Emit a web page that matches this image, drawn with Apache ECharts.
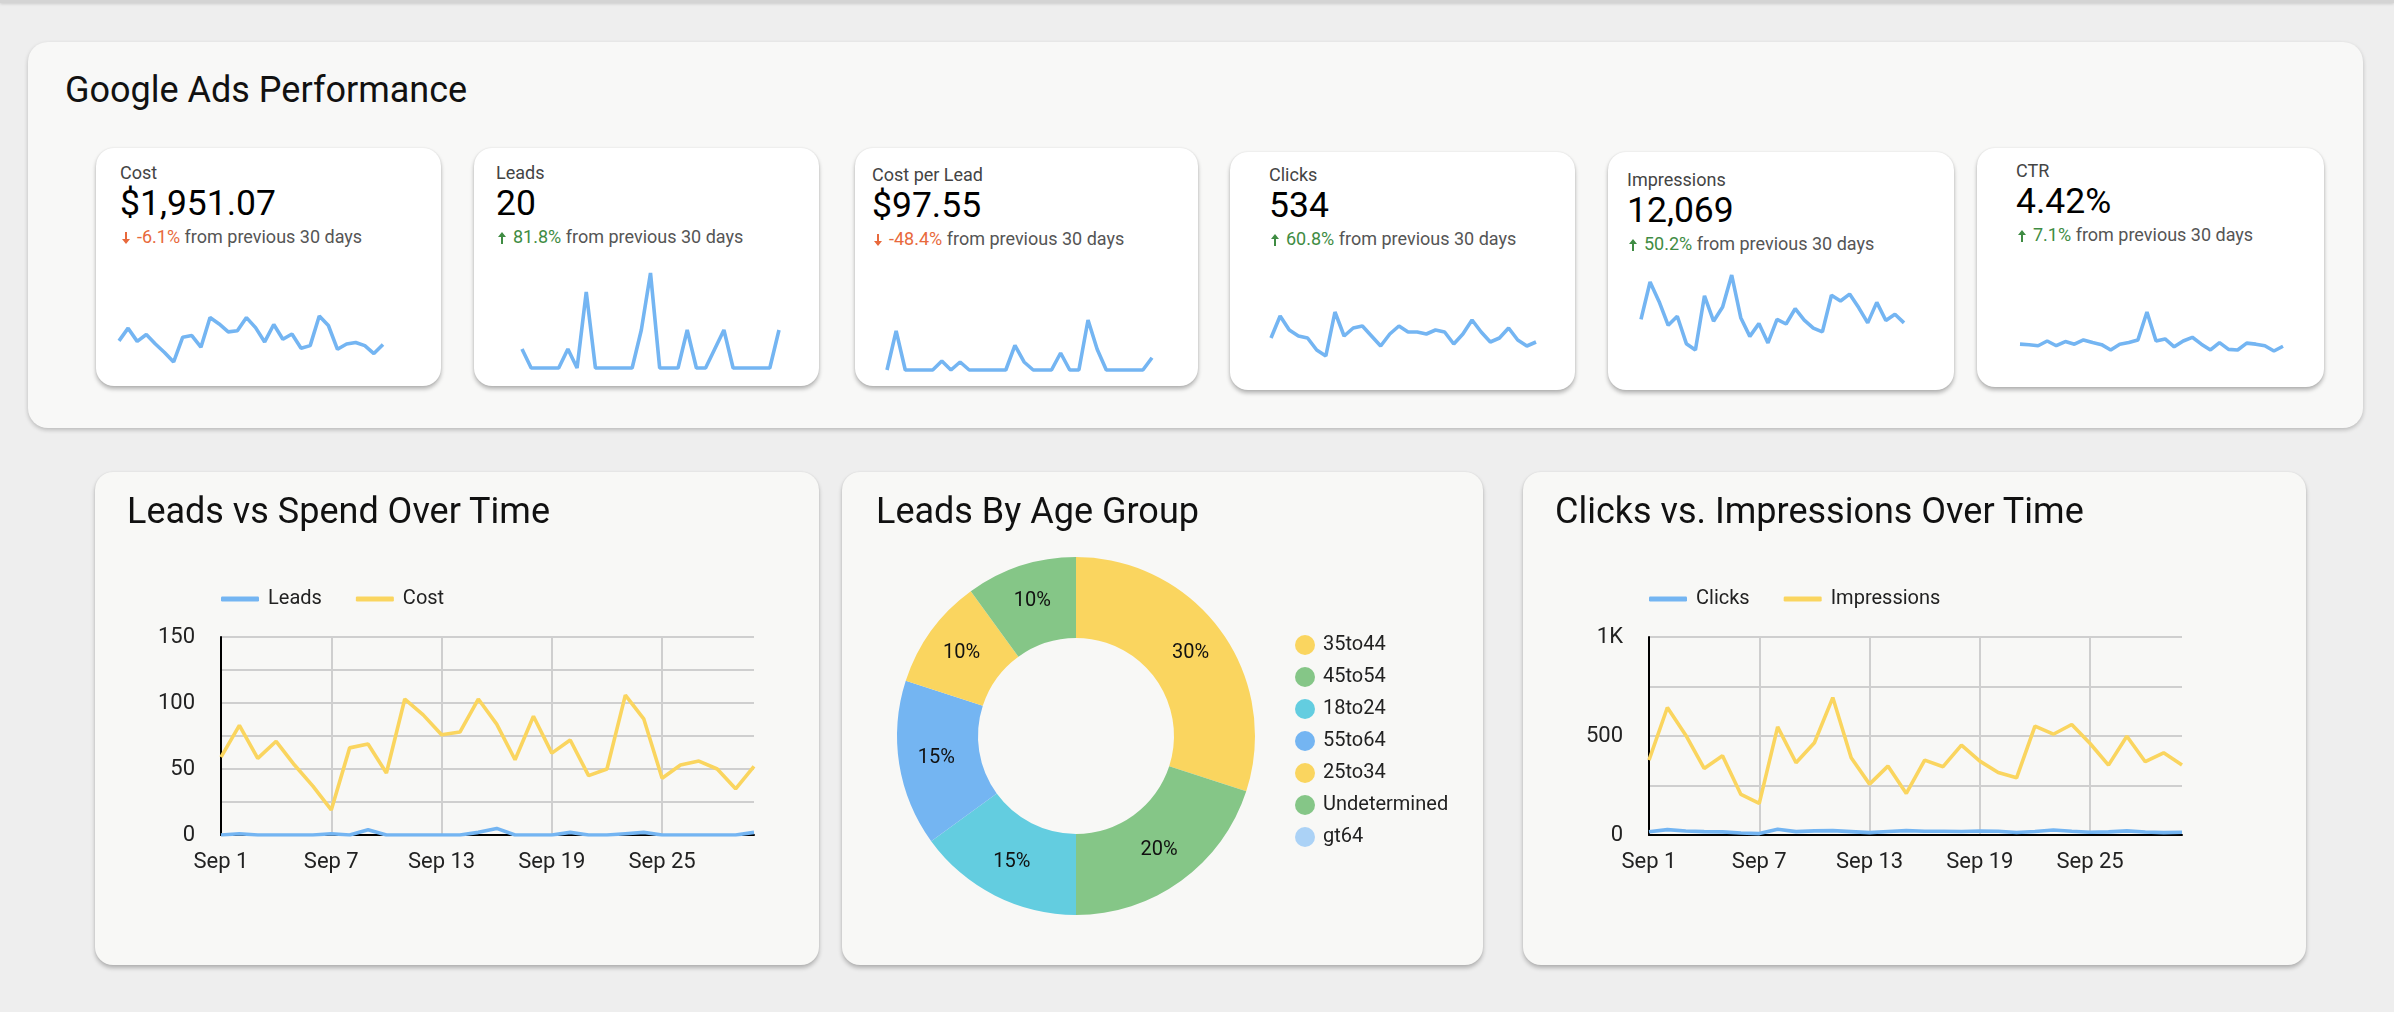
<!DOCTYPE html>
<html>
<head>
<meta charset="utf-8">
<title>Google Ads Performance</title>
<script src="https://cdn.jsdelivr.net/npm/echarts@6.0.0/dist/echarts.min.js"></script>
<style>
  html, body { margin: 0; padding: 0; }
  body {
    width: 2394px; height: 1012px; position: relative; overflow: hidden;
    background: #eeeeee; font-family: Roboto, "Noto Sans", sans-serif;
  }
  .topline { position: absolute; left: 0; top: 0; width: 100%; height: 3px; background: #d4d4d4; box-shadow: 0 1px 3px rgba(0,0,0,.15); }
  .panel { position: absolute; background: #f8f8f7; border-radius: 20px; box-shadow: 0 2px 4px rgba(0,0,0,.22); }
  .panel h1, .card h2 { position: absolute; margin: 0; font-weight: 400; font-size: 36px; line-height: 36px; color: #111; white-space: nowrap; }
  .kpi { position: absolute; background: #fff; border-radius: 18px; box-shadow: 0 3px 4px rgba(0,0,0,.28), 0 0 2px rgba(0,0,0,.1); }
  .kpi .lbl { position: absolute; font-size: 18px; line-height: 18px; color: #444; white-space: nowrap; }
  .kpi .val { position: absolute; font-size: 35.5px; line-height: 36px; color: #000; white-space: nowrap; }
  .kpi .chg { position: absolute; font-size: 18px; line-height: 18px; color: #555; white-space: nowrap; }
  .kpi .chg svg { vertical-align: -1px; margin-right: 7px; }
  .kpi .spark { position: absolute; }
  .card { position: absolute; background: #f8f8f6; border-radius: 18px; box-shadow: 0 3px 4px rgba(0,0,0,.25), 0 0 2px rgba(0,0,0,.08); }
  .card .chart { position: absolute; left: 0; top: 0; width: 100%; height: 100%; }
</style>
</head>
<body>
<div class="topline"></div>

<div class="panel" style="left:28px; top:42px; width:2335px; height:386px;">
  <h1 style="left:37px; top:30px;">Google Ads Performance</h1>
</div>

<div id="kpis"></div>

<div class="card" style="left:95px; top:472px; width:724px; height:493px;">
  <div class="chart" id="leadsSpend"></div>
  <h2 style="left:32px; top:21px;">Leads vs Spend Over Time</h2>
</div>
<div class="card" style="left:842px; top:472px; width:641px; height:493px;">
  <div class="chart" id="ageGroup"></div>
  <h2 style="left:34px; top:21px;">Leads By Age Group</h2>
</div>
<div class="card" style="left:1523px; top:472px; width:783px; height:493px;">
  <div class="chart" id="clicksImpr"></div>
  <h2 style="left:32px; top:21px;">Clicks vs. Impressions Over Time</h2>
</div>

<script>
// ---- data ----
const days = ['Sep 1', 'Sep 2', 'Sep 3', 'Sep 4', 'Sep 5', 'Sep 6', 'Sep 7', 'Sep 8', 'Sep 9', 'Sep 10',
  'Sep 11', 'Sep 12', 'Sep 13', 'Sep 14', 'Sep 15', 'Sep 16', 'Sep 17', 'Sep 18', 'Sep 19', 'Sep 20',
  'Sep 21', 'Sep 22', 'Sep 23', 'Sep 24', 'Sep 25', 'Sep 26', 'Sep 27', 'Sep 28', 'Sep 29', 'Sep 30'];
const cost = [59, 83, 58, 71, 53, 37, 19, 66, 69, 47, 103, 91, 76, 78, 103, 84, 57, 90, 62, 72,
  45, 50, 106, 88, 43, 53, 56, 50, 35, 52];
const leads = [0, 1, 0, 0, 0, 0, 1, 0, 4, 0, 0, 0, 0, 0, 2, 5, 0, 0, 0, 2, 0, 0, 1, 2, 0, 0, 0, 0, 0, 2];
const costPerLead = [0, 83, 0, 0, 0, 0, 19, 0, 17, 0, 0, 0, 0, 0, 52, 17, 0, 0, 0, 36,
  0, 0, 106, 44, 0, 0, 0, 0, 0, 26];
const clicks = [16, 27, 20, 17, 16, 10, 7, 29, 17, 21, 22, 17, 12, 18, 22, 19, 19, 18, 20, 19,
  13, 18, 25, 19, 14, 16, 21, 15, 12, 14];
const impressions = [378, 644, 504, 336, 400, 205, 160, 546, 365, 466, 694, 390, 257, 348, 210, 378, 345, 454, 373, 316,
  289, 550, 509, 558, 462, 353, 499, 370, 415, 353];
const ctr = [4.4, 4.3, 4.1, 5.0, 4.1, 4.9, 4.4, 5.2, 4.7, 4.3, 3.3, 4.4, 4.7, 5.2, 10.5, 5.0, 5.4, 3.9, 5.0, 5.7,
  4.4, 3.3, 4.7, 3.4, 3.3, 4.6, 4.4, 4.1, 3.1, 4.0];

const kpiLabels = ['Cost', 'Leads', 'Cost per Lead', 'Clicks', 'Impressions', 'CTR'];
const kpiValues = ['$1,951.07', '20', '$97.55', '534', '12,069', '4.42%'];
const kpiChanges = [-6.1, 81.8, -48.4, 60.8, 50.2, 7.1];

const ageGroups = ['35to44', '45to54', '18to24', '55to64', '25to34', 'Undetermined', 'gt64'];
const ageLeads = [6, 4, 3, 3, 2, 2, 0];

// ---- styles ----
const BLUE = '#74b5f2';
const YELLOW = '#fad55f';
const AGE_COLORS = ['#fad55f', '#85c687', '#63cde0', '#74b5f2', '#fad55f', '#85c687', '#abd2f6'];
const RED = '#e8693c';
const GREEN = '#3f8c43';
const FONT = 'Roboto';
const LINE_W = 3.6;

// card box [left, top, width, height], text offset [left, top], sparkline box [left, top, width, height]
const kpiBoxes = [[96, 148, 345, 238], [474, 148, 345, 238], [855, 148, 343, 238],
  [1230, 152, 345, 238], [1608, 152, 346, 238], [1977, 148, 347, 239]];
const kpiText = [[24, 25], [22, 25], [17, 27], [39, 23], [19, 28], [39, 23]];
const sparkBoxes = [[23, 168, 264, 46], [48, 125, 257, 95], [32, 172, 265, 50],
  [41, 160, 265, 44], [33, 123, 263, 75], [43, 164, 263, 39]];
// the Leads sparkline starts on Sep 2 in the original
const sparkSeries = [
  [days, cost], [days.slice(1), leads.slice(1)], [days, costPerLead],
  [days, clicks], [days, impressions], [days, ctr]
];

function arrowSvg(up, color) {
  const d = up ? 'M4 0 L8 5 L5 5 L5 12 L3 12 L3 5 L0 5 Z' : 'M3 0 L5 0 L5 7 L8 7 L4 12 L0 7 L3 7 Z';
  return '<svg width="8" height="12" viewBox="0 0 8 12"><path d="' + d + '" fill="' + color + '"/></svg>';
}

const host = document.getElementById('kpis');
kpiLabels.forEach((label, i) => {
  const [x, y, w, h] = kpiBoxes[i];
  const [tx, ty] = kpiText[i];
  const up = kpiChanges[i] >= 0;
  const c = up ? GREEN : RED;
  const card = document.createElement('div');
  card.className = 'kpi';
  card.style.cssText = `left:${x}px;top:${y}px;width:${w}px;height:${h}px;`;
  card.innerHTML =
    `<div class="lbl" style="left:${tx}px;top:${ty - 9}px">${label}</div>` +
    `<div class="val" style="left:${tx}px;top:${ty + 30 - 18}px">${kpiValues[i]}</div>` +
    `<div class="chg" style="left:${tx + 2}px;top:${ty + 64 - 9}px">${arrowSvg(up, c)}` +
    `<span style="color:${c}">${kpiChanges[i]}%</span> from previous 30 days</div>`;
  const [sx, sy, sw, sh] = sparkBoxes[i];
  const pad = 4;
  const sp = document.createElement('div');
  sp.className = 'spark';
  sp.style.cssText = `left:${sx - pad}px;top:${sy - pad}px;width:${sw + 2 * pad}px;height:${sh + 2 * pad}px;`;
  card.appendChild(sp);
  host.appendChild(card);

  const [cats, vals] = sparkSeries[i];
  const chart = echarts.init(sp);
  chart.setOption({
    animation: false,
    grid: {left: pad, right: pad, top: pad, bottom: pad},
    xAxis: {type: 'category', show: false, boundaryGap: false, data: cats},
    yAxis: {type: 'value', show: false, min: 'dataMin', max: 'dataMax'},
    series: [{
      type: 'line', data: vals, showSymbol: false, clip: false, silent: true,
      lineStyle: {width: LINE_W, color: BLUE}
    }]
  });
});

function timeOption(names, a, b, yMax, yStep, yFmt, gridRight) {
  return {
    animation: false,
    color: [BLUE, YELLOW],
    textStyle: {fontFamily: FONT},
    legend: {
      left: 121, top: 112, icon: 'roundRect', itemWidth: 38, itemHeight: 5, itemGap: 34,
      textStyle: {fontSize: 20, color: '#222', fontFamily: FONT, padding: [0, 0, 0, 4]}
    },
    grid: {left: 126, right: gridRight, top: 165, bottom: 130},
    xAxis: {
      type: 'category', data: days, boundaryGap: false,
      axisTick: {show: false},
      axisLine: {lineStyle: {color: '#000', width: 2}},
      axisLabel: {interval: 5, fontSize: 22, color: '#222', margin: 16, fontFamily: FONT},
      splitLine: {show: true, interval: 5, lineStyle: {color: '#cfcfcf', width: 2}}
    },
    yAxis: {
      type: 'value', min: 0, max: yMax, interval: yStep,
      axisLine: {show: true, lineStyle: {color: '#000', width: 2}},
      axisTick: {show: false},
      axisLabel: {fontSize: 22, color: '#222', margin: 26, fontFamily: FONT, formatter: yFmt},
      splitLine: {lineStyle: {color: '#cfcfcf', width: 2}}
    },
    series: [
      {name: names[0], type: 'line', data: a, showSymbol: false, lineStyle: {width: LINE_W}, z: 3},
      {name: names[1], type: 'line', data: b, showSymbol: false, lineStyle: {width: LINE_W}}
    ]
  };
}

const leadsSpend = echarts.init(document.getElementById('leadsSpend'));
leadsSpend.setOption(timeOption(['Leads', 'Cost'], leads, cost, 150, 25,
  v => (v % 50 === 0 ? String(v) : ''), 65));

const clicksImpr = echarts.init(document.getElementById('clicksImpr'));
clicksImpr.setOption(timeOption(['Clicks', 'Impressions'], clicks, impressions, 1000, 250,
  v => (v === 1000 ? '1K' : v % 500 === 0 ? String(v) : ''), 124));

const ageChart = echarts.init(document.getElementById('ageGroup'));
ageChart.setOption({
  animation: false,
  textStyle: {fontFamily: FONT},
  legend: {
    orient: 'vertical', left: 448, top: 158, icon: 'circle',
    itemWidth: 20, itemHeight: 20, itemGap: 12,
    textStyle: {fontSize: 20, color: '#222', fontFamily: FONT, padding: [0, 0, 0, 3]}
  },
  series: [{
    type: 'pie',
    center: [234, 264],
    radius: [98, 179],
    startAngle: 90,
    data: ageGroups.map((name, i) => ({name, value: ageLeads[i], itemStyle: {color: AGE_COLORS[i]}})),
    label: {
      position: 'inside', fontSize: 20, color: '#111', fontFamily: FONT,
      formatter: p => (p.value ? Math.round(p.percent) + '%' : '')
    },
    labelLine: {show: false},
    emphasis: {disabled: true}
  }]
});
</script>
</body>
</html>
